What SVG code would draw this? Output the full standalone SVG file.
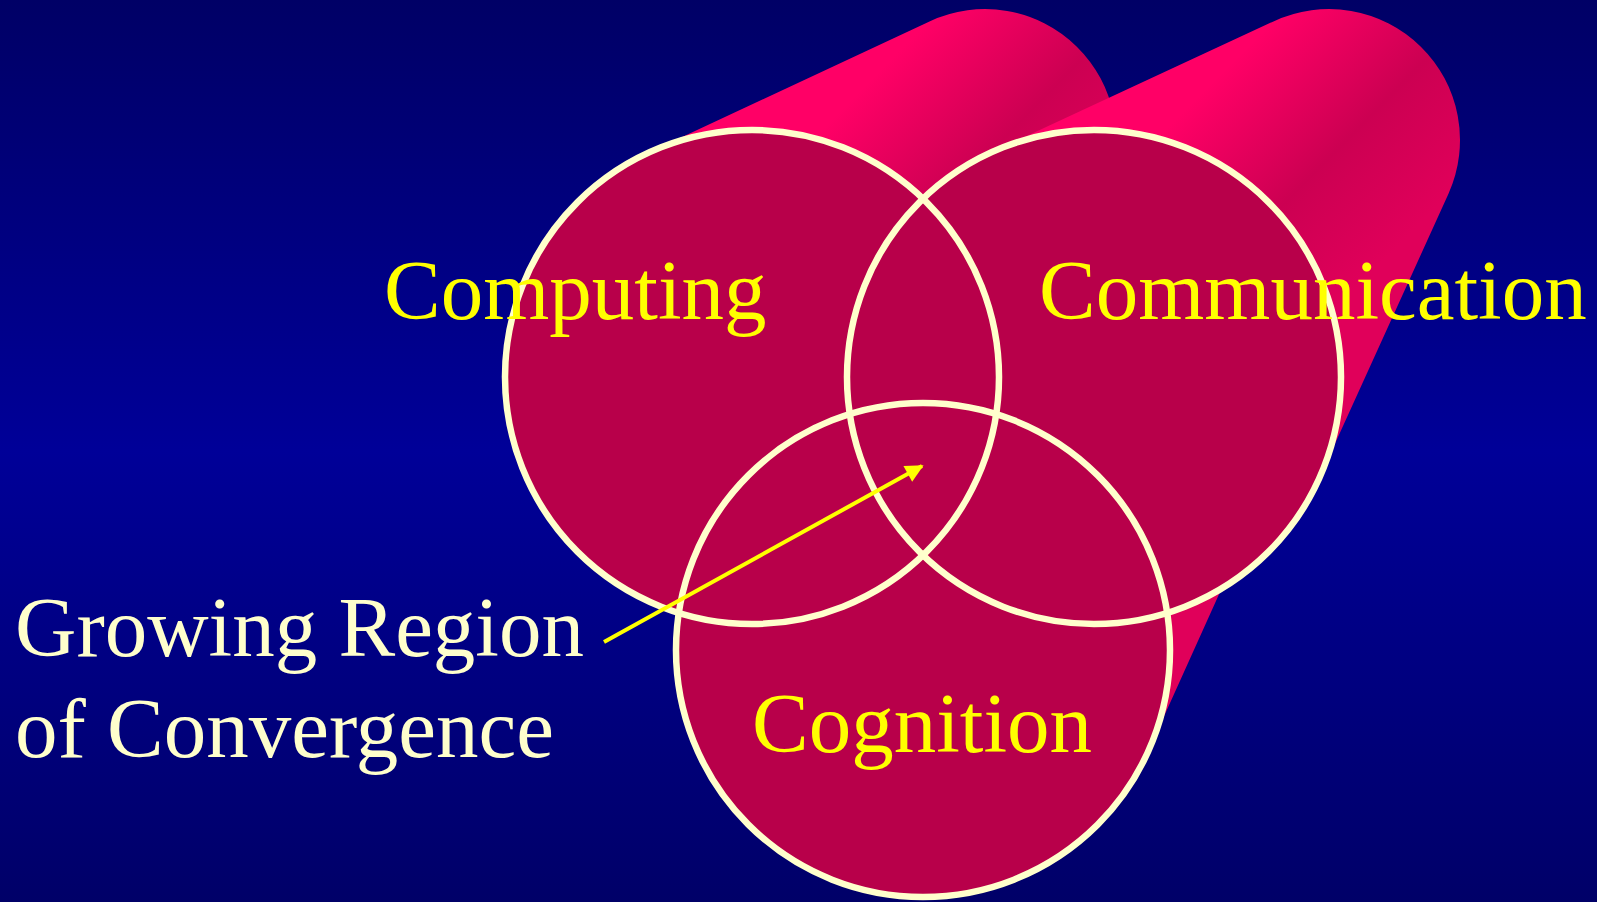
<svg xmlns="http://www.w3.org/2000/svg" width="1597" height="902" viewBox="0 0 1597 902">
  <defs>
    <linearGradient id="bg" x1="0" y1="0" x2="0" y2="1">
      <stop offset="0" stop-color="#000066"/>
      <stop offset="0.5" stop-color="#000098"/>
      <stop offset="1" stop-color="#000068"/>
    </linearGradient>
    <linearGradient id="cylA" gradientUnits="userSpaceOnUse" x1="929" y1="21" x2="1105" y2="194">
      <stop offset="0" stop-color="#FF0066"/>
      <stop offset="0.55" stop-color="#CC0052"/>
      <stop offset="1" stop-color="#E0005A"/>
    </linearGradient>
    <linearGradient id="cylB" gradientUnits="userSpaceOnUse" x1="1273" y1="21" x2="1449" y2="194">
      <stop offset="0" stop-color="#FF0066"/>
      <stop offset="0.55" stop-color="#CC0052"/>
      <stop offset="1" stop-color="#E0005A"/>
    </linearGradient>
    <linearGradient id="cylC" gradientUnits="userSpaceOnUse" x1="1101" y1="294" x2="1277" y2="467">
      <stop offset="0" stop-color="#FF0066"/>
      <stop offset="0.55" stop-color="#CC0052"/>
      <stop offset="1" stop-color="#E0005A"/>
    </linearGradient>
    <marker id="arrow" viewBox="0 0 10 10" refX="9" refY="5" markerWidth="5.5" markerHeight="4.5" markerUnits="strokeWidth" orient="auto">
      <path d="M0,0 L10,5 L0,10 Z" fill="#FFFF00"/>
    </marker>
    <style>
      .face { fill: #B8004A; }
      .ring { fill: none; stroke: #FFFFCC; stroke-width: 6.5; }
      .lbl { font-family: "Liberation Serif", "Times New Roman", serif; font-size: 85px; fill: #FFFF00; }
      .note { font-family: "Liberation Serif", "Times New Roman", serif; font-size: 85px; fill: #FFFFCC; }
      .conn { stroke: #FFFF00; stroke-width: 4; fill: none; }
    </style>
  </defs>

  <rect id="background" x="0" y="0" width="1597" height="902" fill="url(#bg)"/>

  <g id="cylinders">
    <path id="cyl-cognition" fill="url(#cylC)" d="M818.4,426.3 L1101.5,294.4 A131,131 0 0 1 1276.6,466.5 L1148.5,750.8 A247,247 0 1 1 818.4,426.3 Z"/>
    <path id="cyl-computing" fill="url(#cylA)" d="M647.4,153.3 L929.5,21.4 A131,131 0 0 1 1104.6,193.5 L977.5,477.8 A247,247 0 1 1 647.4,153.3 Z"/>
    <path id="cyl-communication" fill="url(#cylB)" d="M989.4,153.3 L1273.5,21.4 A131,131 0 0 1 1448.6,193.5 L1319.5,477.8 A247,247 0 1 1 989.4,153.3 Z"/>
  </g>

  <g id="faces">
    <circle class="face" cx="752" cy="377" r="247"/>
    <circle class="face" cx="1094" cy="377" r="247"/>
    <circle class="face" cx="923" cy="650" r="247"/>
  </g>

  <g id="node-computing">
    <circle class="ring" cx="752" cy="377" r="247"/>
    <text class="lbl" x="384" y="319">Computing</text>
  </g>
  <g id="node-communication">
    <circle class="ring" cx="1094" cy="377" r="247"/>
    <text class="lbl" x="1039" y="319">Communication</text>
  </g>
  <g id="node-cognition">
    <circle class="ring" cx="923" cy="650" r="247"/>
    <text class="lbl" x="752" y="752">Cognition</text>
  </g>

  <g id="node-convergence-label">
    <text class="note" x="15" y="656">Growing Region</text>
    <text class="note" x="15" y="757">of Convergence</text>
  </g>

  <g id="connectors">
    <line class="conn" x1="604" y1="642" x2="922" y2="466" marker-end="url(#arrow)"/>
  </g>
</svg>
